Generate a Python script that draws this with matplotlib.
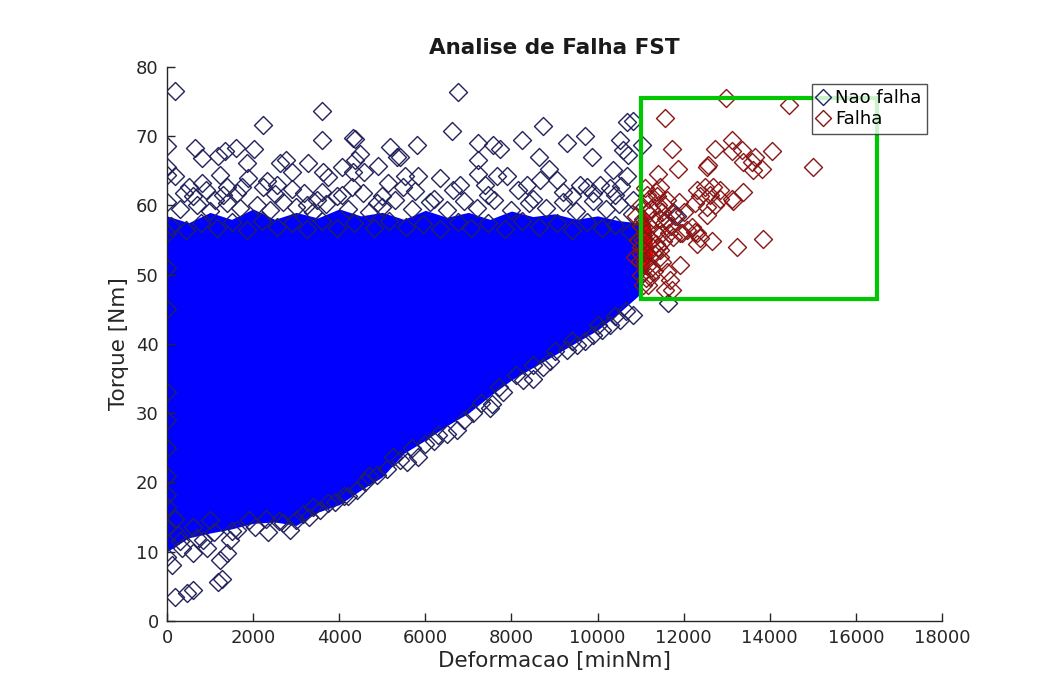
import matplotlib
matplotlib.use('Agg')
import matplotlib.pyplot as plt
from matplotlib.patches import Rectangle
from matplotlib.markers import MarkerStyle

title = "Analise de Falha FST"
xlabel = "Deformacao [minNm]"
ylabel = "Torque [Nm]"
legend_labels = ["Nao falha", "Falha"]
xticks = [0, 2000, 4000, 6000, 8000, 10000, 12000, 14000, 16000, 18000]
yticks = [0, 10, 20, 30, 40, 50, 60, 70, 80]

# envelope of the saturated (fully overlapped) "Nao falha" cloud
core_x = [0, 500, 1000, 1500, 2000, 2500, 3000, 3500, 4000, 4500, 5000, 5500, 6000, 6500, 7000,
          7500, 8000, 8500, 9000, 9500, 10000, 10500, 10950]
core_upper = [58.5, 57.5, 59.0, 58.0, 59.5, 58.0, 59.0, 58.2, 59.5, 58.5, 59.0, 58.0, 59.3, 58.3, 59.0,
              58.0, 59.2, 58.4, 58.8, 58.0, 58.5, 57.8, 57.5]
core_lower = [10, 12, 12.7, 13.3, 14.1, 14.3, 13.8, 15.7, 16.8, 18.9, 20.8, 24.2, 26.1, 28.2, 30,
              32.5, 34.8, 36.6, 38.4, 40.2, 42, 44.5, 47]

# dense overlapped "Falha" cluster just past the threshold
falha_core_x = [10950, 10950, 11100, 11250, 11300, 11150]
falha_core_y = [50, 58.5, 59.5, 57, 53, 50]

# individual "Nao falha" points visible outside / at the edge of the saturated cloud
nao_falha_x = [
    186, 3592, 2222, 3592, 4327, 4360, 0, 650, 805, 1190, 1347, 1602, 2020, 1865, 2624, 2764,
    2895, 3282, 3630, 3746, 4071, 4366, 4482, 4312, 4575, 4908, 5179, 5349, 0, 0, 186, 0,
    518, 805, 1231, 1386, 1889, 2237, 2315, 2547, 3182, 4057, 3941, 4560, 5140, 5488, 4870, 3244,
    3477, 611, 1115, 1618, 6766, 6611, 8725, 5411, 5813, 7230, 7578, 7733, 8237, 9283, 9707, 9862,
    7230, 8646, 10520, 10675, 10830, 10714, 11024, 8878, 10365, 5527, 5836, 6340, 7230, 7656, 7888, 8662,
    9050, 9591, 9746, 10056, 10288, 10675, 6804, 7385, 8353, 9204, 10404, 10830, 10598, 11760, 11850, 11644,
    300, 700, 1000, 1400, 1700, 2100, 2400, 2700, 3000, 3400, 3700, 4200, 4700, 5000, 5300, 5700,
    6100, 6500, 6900, 7200, 7600, 8000, 8400, 8800, 9200, 9500, 9900, 10200, 10500, 10800,
    100, 450, 800, 1150, 1500, 1850, 2200, 2550, 2900, 3250, 3600, 3950, 4350, 4800, 5150, 5550,
    5950, 6350, 6750, 7050, 7450, 7850, 8250, 8650, 9050, 9400, 9750, 10100, 10400, 10750,
    400, 900, 1300, 1750, 2500, 2900, 3600, 4300, 5000, 5750, 6200, 6650, 7450, 8150, 8500, 9400,
    9900, 10550,
    186, 457, 611, 1191, 1270, 108, 0, 341, 611, 1231, 1386, 843, 921, 0, 263, 611,
    1463, 1618, 2044, 2353, 2857, 3166, 3553, 3902, 4405, 4870, 5411, 0, 0, 186, 999, 5566,
    5836, 6301, 6728, 7501, 7540, 8275, 8507, 8739, 9283, 9515, 10288, 10520, 10830, 7114, 9900, 5256,
    2600, 3300, 4200, 4600, 6000, 6500, 7800, 8900, 9700, 10100, 10650,
    300, 700, 1100, 1500, 1900, 2300, 2700, 3000, 3400, 3750, 4100, 4700, 5100, 5700, 6200, 6900,
    7300, 7700, 8100, 8500, 9000, 9400, 10000, 10400,
    0, 0, 0, 0, 0, 0, 0]
nao_falha_y = [
    76.6, 73.7, 71.6, 69.5, 69.8, 69.6, 68.6, 68.3, 66.8, 67.1, 67.8, 68.3, 68.1, 66.1, 66.1, 66.6,
    64.9, 66.1, 64.9, 64.1, 65.5, 66.6, 67.5, 64.9, 64.9, 65.7, 68.4, 67.0, 65.6, 64.4, 64.2, 60.5,
    62.6, 63.2, 64.4, 62.7, 63.9, 62.7, 63.6, 63.0, 61.8, 61.5, 61.3, 61.8, 63.2, 62.7, 60.3, 60.1,
    60.8, 61.3, 60.8, 61.8, 76.4, 70.8, 71.5, 67.0, 68.7, 69.0, 68.7, 68.1, 69.5, 69.0, 70.0, 67.0,
    66.6, 67.0, 69.4, 72.0, 72.2, 67.3, 68.7, 65.3, 65.1, 64.2, 64.2, 63.9, 64.6, 64.2, 64.2, 63.7,
    63.7, 63.0, 62.7, 63.0, 62.5, 64.2, 63.0, 63.0, 63.0, 62.0, 61.5, 60.8, 68.0, 59.1, 58.5, 45.9,
    59.5, 60.0, 59.2, 60.3, 59.6, 60.0, 59.3, 60.5, 59.8, 59.0, 60.2, 59.5, 59.0, 59.8, 60.8, 59.5,
    60.5, 59.3, 60.6, 59.6, 60.8, 59.4, 60.3, 59.7, 60.5, 59.2, 60.7, 59.5, 60.2, 58.8,
    57.0, 56.5, 57.5, 56.8, 57.6, 56.5, 57.8, 56.9, 57.4, 56.6, 57.7, 56.8, 57.5, 56.7, 57.8, 56.9,
    57.3, 56.6, 57.6, 56.8, 57.4, 56.6, 57.7, 56.9, 57.4, 56.5, 57.6, 56.8, 57.2, 56.2,
    61.8, 62.3, 61.5, 62.6, 61.6, 62.4, 62.0, 62.6, 61.4, 62.1, 61.0, 62.3, 61.5, 62.2, 61.0, 61.4,
    61.8, 62.8,
    3.5, 4.0, 4.5, 5.7, 6.0, 8.1, 9.3, 10.5, 9.8, 8.8, 9.8, 11.7, 10.5, 13.6, 12.4, 13.6,
    11.7, 13.1, 13.6, 12.9, 13.1, 15.5, 16.0, 17.2, 18.9, 21.1, 23.2, 16.5, 18.2, 14.8, 14.6, 23.0,
    23.7, 26.9, 27.6, 30.7, 31.4, 34.8, 35.0, 36.7, 39.1, 39.9, 42.7, 43.5, 44.2, 30.0, 41.3, 23.7,
    14.5, 15.0, 18.0, 20.0, 25.5, 27.0, 33.0, 37.5, 40.5, 42.0, 44.8,
    11.5, 12.0, 12.8, 13.0, 14.6, 14.8, 14.2, 14.6, 16.5, 17.0, 18.0, 21.0, 22.0, 25.0, 26.0, 29.0,
    31.5, 33.8, 35.5, 37.0, 39.0, 40.5, 42.8, 44.0,
    21, 25, 29, 33, 45, 51, 56]

# individual "Falha" points
falha_x = [
    12982, 14452, 11565, 11721, 12726, 13114, 13114, 13346, 13655, 13579, 14044, 13384, 13616, 13810, 14996, 12534,
    12560, 11876, 11411, 12301, 12494, 12688, 12842, 12378, 12610, 12842, 13114, 13384, 12534, 12262, 11450, 11373,
    11605, 11953, 12185, 12301, 13849, 13230, 12649, 12301, 12378, 12262, 11914, 11605, 11682, 11721, 11565, 11489,
    11179, 11218, 11140, 11450, 11527, 11760, 11914, 12069, 12534, 12726, 13152,
    11000, 11050, 11100, 11020, 11080, 11000, 11150, 11200, 11250, 11150, 11050, 11300, 11350, 11300, 11400, 11450,
    11500, 11400, 11200, 11100, 11600, 11550, 11250, 11120, 11000, 10950, 10980, 11350, 11650, 11800, 11900, 12000,
    11000, 11060, 11250, 11350, 11450, 11550, 11700, 11300, 11150, 10900, 10880, 11500]
falha_y = [
    75.5, 74.5, 72.7, 68.2, 68.2, 69.5, 67.8, 68.0, 67.0, 66.3, 67.8, 66.3, 65.1, 65.3, 65.6, 65.6,
    65.9, 65.3, 64.6, 62.2, 62.7, 62.7, 62.2, 61.3, 61.5, 61.0, 61.0, 62.0, 58.6, 60.3, 62.7, 61.3,
    60.8, 56.0, 56.9, 56.0, 55.2, 54.0, 54.8, 54.5, 55.3, 56.2, 51.4, 50.4, 49.2, 47.8, 47.8, 51.9,
    48.5, 49.7, 51.2, 53.6, 54.8, 55.5, 56.0, 56.5, 59.8, 60.1, 60.6,
    60, 58, 56, 54, 52, 50, 59, 57, 55, 53, 48.5, 58, 56, 53, 60, 58,
    56, 54, 61, 62.5, 58, 60, 51, 49.5, 57, 55, 52, 62, 56, 58.5, 60.5, 59,
    53, 55, 59.5, 54.5, 52.5, 57.5, 57.0, 50.5, 61.5, 58.5, 52.5, 59.0]

# threshold region (green box)
box_x0, box_x1 = 11000, 16500
box_y0, box_y1 = 46.5, 75.5

nf_face = '#0000ff'
nf_edge = '#22225e'
f_edge = '#8a1515'
f_face = '#ff0000'
green = '#00c800'
ink = '#262626'

fig = plt.figure(figsize=(10.53, 6.89), dpi=100)
ax = fig.add_axes([0.1586, 0.0987, 0.7360, 0.8041])

mk = MarkerStyle('D', joinstyle='round')

ax.fill_between(core_x, core_lower, core_upper, color=nf_face, lw=0, zorder=1)
ax.fill(falha_core_x, falha_core_y, color=f_face, lw=0, zorder=1)

h1, = ax.plot(nao_falha_x, nao_falha_y, ls='none', marker=mk, ms=9.5, mfc='none',
              mec=nf_edge, mew=1.0, zorder=2)
h2, = ax.plot(falha_x, falha_y, ls='none', marker=mk, ms=9.5, mfc='none',
              mec=f_edge, mew=1.0, zorder=3)

ax.add_patch(Rectangle((box_x0, box_y0), box_x1 - box_x0, box_y1 - box_y0,
                       fill=False, edgecolor=green, lw=3, zorder=4, clip_on=False))

ax.set_xlim(0, 18000)
ax.set_ylim(0, 80)
ax.set_xticks(xticks)
ax.set_yticks(yticks)
ax.tick_params(direction='in', length=6, width=1, labelsize=13, colors=ink, pad=6)
for s in ['top', 'right']:
    ax.spines[s].set_visible(False)
for s in ['left', 'bottom']:
    ax.spines[s].set_color(ink)
    ax.spines[s].set_linewidth(1.0)

ax.set_xlabel(xlabel, fontsize=15.5, color=ink, labelpad=3)
ax.set_ylabel(ylabel, fontsize=15.5, color=ink, labelpad=5)
ax.set_title(title, fontsize=15.5, fontweight='bold', color='#1a1a1a', pad=9)

leg = ax.legend([h1, h2], legend_labels, loc='upper right', bbox_to_anchor=(0.9806, 0.9693),
                borderaxespad=0, fontsize=13, frameon=True, fancybox=False,
                handlelength=0.6, handletextpad=0.4, borderpad=0.3, labelspacing=0.15,
                markerscale=0.85)
leg.get_frame().set_edgecolor(ink)
leg.get_frame().set_linewidth(1.0)
leg.set_zorder(10)

fig.savefig('out.png', dpi=100, facecolor='white')
